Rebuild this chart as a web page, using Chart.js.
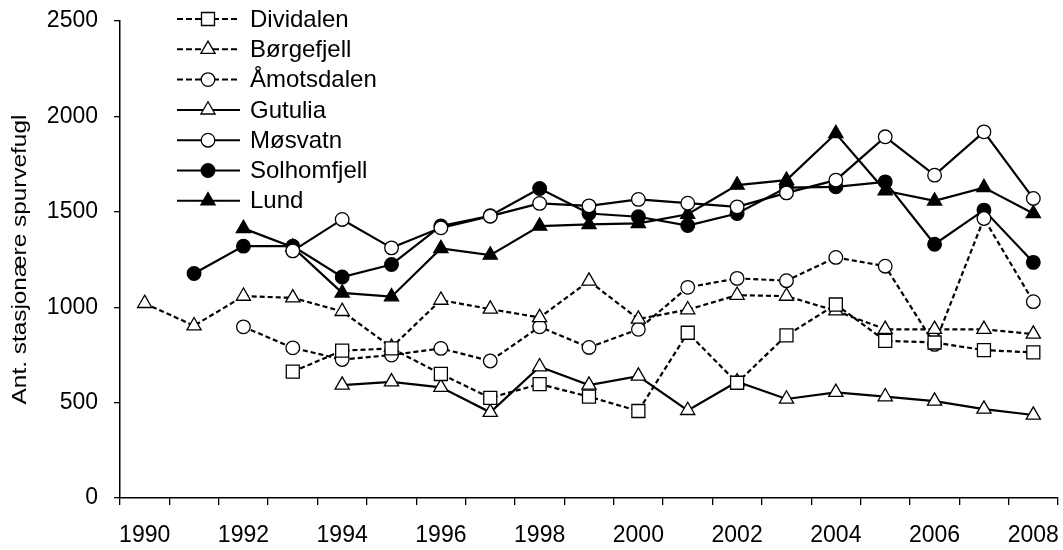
<!DOCTYPE html>
<html>
<head>
<meta charset="utf-8">
<script src="https://cdn.jsdelivr.net/npm/chart.js@4.4.0/dist/chart.umd.min.js"></script>
<style>
  html, body { margin: 0; padding: 0; background: #fff; }
  #wrap { width: 1063px; height: 550px; }
</style>
</head>
<body>
<div id="wrap"><canvas id="chart" width="1063" height="550"></canvas></div>
<script>
// years on the x axis (category axis, labels only on even years)
const years = ['1990','1991','1992','1993','1994','1995','1996','1997','1998','1999',
               '2000','2001','2002','2003','2004','2005','2006','2007','2008'];
const yTicks = [0, 500, 1000, 1500, 2000, 2500];
const yTitle = 'Ant. stasjonære spurvefugl';

// values, null = no census that year
const dividalen  = [null, null, null, 662, 772, 784, 650, 525, 597, 531, 456, 866, 604, 852, 1014, 824, 815, 775, 763];
const borgefjell = [1020, 903, 1058, 1049, 978, 790, 1037, 990, 946, 1137, 938, 987, 1063, 1058, 981, 884, 884, 884, 859];
const amotsdalen = [null, null, 897, 787, 726, 749, 784, 718, 897, 789, 884, 1104, 1151, 1139, 1261, 1215, 805, 1465, 1029];
const gutulia    = [null, null, null, null, 592, 609, 580, 449, 688, 592, 639, 459, 609, 519, 554, 531, 508, 466, 435];
const mosvatn    = [null, null, null, 1295, 1460, 1311, 1416, 1477, 1544, 1531, 1565, 1545, 1526, 1599, 1666, 1893, 1692, 1919, 1570];
const solhomfjell= [null, 1177, 1320, 1320, 1158, 1224, 1426, 1479, 1622, 1491, 1474, 1428, 1491, 1627, 1631, 1657, 1330, 1509, 1235];
const lund       = [null, null, 1413, 1315, 1075, 1055, 1308, 1273, 1425, 1434, 1439, 1487, 1640, 1666, 1910, 1610, 1557, 1627, 1491];

const FONT = '"Liberation Sans", Arial, sans-serif';
const DASH = [5, 3];

function series(label, data, style, filled, dashed) {
  const r = style === 'rect' ? 9.2 : (style === 'triangle' ? 8.2 : 6.8);
  return {
    label: label,
    data: data,
    borderColor: '#000',
    borderWidth: 2.2,
    borderDash: dashed ? DASH : [],
    pointStyle: style,
    pointRadius: r,
    pointHoverRadius: r,
    pointBorderWidth: 1.3,
    pointBorderColor: '#000',
    pointBackgroundColor: filled ? '#000' : '#fff',
    spanGaps: false,
    tension: 0
  };
}

// legend + y title drawn by hand: line - marker - line, then the name
const lineLegend = {
  id: 'lineLegend',
  afterDraw(chart) {
    const ctx = chart.ctx;
    chart.data.datasets.forEach(function (ds, i) {
      const y = 19 + i * 30.3;
      ctx.save();
      ctx.strokeStyle = '#000';
      ctx.lineWidth = 2;
      ctx.setLineDash(ds.borderDash.length ? [6, 3] : []);
      ctx.beginPath();
      ctx.moveTo(177, y);
      ctx.lineTo(240, y);
      ctx.stroke();
      ctx.setLineDash([]);
      ctx.fillStyle = ds.pointBackgroundColor;
      ctx.strokeStyle = '#000';
      ctx.lineWidth = ds.pointBorderWidth;
      Chart.helpers.drawPoint(ctx, {
        pointStyle: ds.pointStyle, radius: ds.pointRadius, rotation: 0, borderWidth: ds.pointBorderWidth
      }, 208, y);
      ctx.fillStyle = '#000';
      ctx.font = '24px ' + FONT;
      ctx.textBaseline = 'middle';
      ctx.textAlign = 'left';
      ctx.fillText(ds.label, 250, y + 1);
      ctx.restore();
    });
    // y title: the original font is a bit wide, so stretch along the text
    const a = chart.chartArea;
    ctx.save();
    ctx.translate(20, (a.top + a.bottom) / 2);
    ctx.rotate(-Math.PI / 2);
    ctx.scale(1.16, 1);
    ctx.fillStyle = '#000';
    ctx.font = '21px ' + FONT;
    ctx.textAlign = 'center';
    ctx.textBaseline = 'middle';
    ctx.fillText(yTitle, 0, 0);
    ctx.restore();
  }
};

new Chart(document.getElementById('chart'), {
  type: 'line',
  data: {
    labels: years,
    datasets: [
      series('Dividalen', dividalen, 'rect', false, true),
      series('Børgefjell', borgefjell, 'triangle', false, true),
      series('Åmotsdalen', amotsdalen, 'circle', false, true),
      series('Gutulia', gutulia, 'triangle', false, false),
      series('Møsvatn', mosvatn, 'circle', false, false),
      series('Solhomfjell', solhomfjell, 'circle', true, false),
      series('Lund', lund, 'triangle', true, false)
    ]
  },
  options: {
    responsive: false,
    animation: false,
    layout: { autoPadding: false, padding: { left: 0, right: 5, top: 21, bottom: 0 } },
    plugins: { legend: { display: false }, tooltip: { enabled: false } },
    scales: {
      x: {
        type: 'category',
        offset: true,
        grid: { offset: true, drawOnChartArea: false, drawTicks: true, tickLength: 7, color: '#000', lineWidth: 1.3 },
        border: { color: '#000', width: 1.5 },
        ticks: {
          autoSkip: false, maxRotation: 0, color: '#000', padding: 17,
          font: { family: FONT, size: 23 },
          callback: function (v, i) { return i % 2 === 0 ? years[i] : ''; }
        },
        afterFit: function (s) { s.height = 52; s.paddingLeft = 0; s.paddingRight = 0; }
      },
      y: {
        min: 0, max: 2500,
        afterBuildTicks: function (s) { s.ticks = yTicks.map(function (v) { return { value: v }; }); },
        grid: { drawOnChartArea: false, drawTicks: true, tickLength: 6, color: '#000', lineWidth: 1.3 },
        border: { color: '#000', width: 1.5 },
        ticks: {
          color: '#000', padding: 16, font: { family: FONT, size: 23 },
          callback: function (v) { return String(v); }
        },
        afterFit: function (s) { s.width = 120; s.paddingTop = 0; s.paddingBottom = 0; }
      }
    }
  },
  plugins: [lineLegend]
});
</script>
</body>
</html>
